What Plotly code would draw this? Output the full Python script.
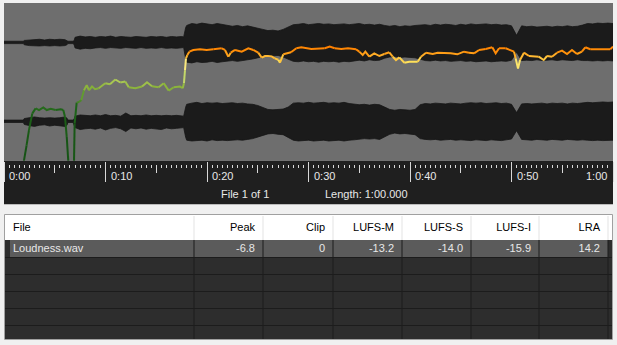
import plotly.graph_objects as go

W, H = 617, 345

# ---------------- data ----------------
duration_s = 60.0
file_index, file_count = 1, 1

# short-term loudness curve (seconds, LUFS); values below -47 are out of view (silence)
loud_t = [1.90, 1.97, 2.22, 2.46, 2.79, 3.12, 3.45, 3.87, 4.21, 4.60, 5.09, 5.59, 5.84, 6.01, 6.18, 6.33, 6.40,
          6.85, 6.90, 6.96, 7.16, 7.39, 7.62, 7.88, 8.15, 8.37, 8.67, 8.97, 9.33, 9.98, 10.44, 10.97, 11.46,
          11.95, 12.29, 12.94, 13.60, 14.09, 14.58, 15.24, 15.73, 16.23, 16.72, 17.34, 17.61, 17.73, 17.83,
          17.93, 18.06, 18.26, 18.65, 19.31, 19.97, 20.62, 21.45, 21.77, 22.10, 22.34, 22.76, 23.42, 24.07,
          24.56, 25.05, 25.39, 25.71, 26.01, 26.37, 26.67, 27.03, 27.19, 27.52, 28.01, 28.28, 28.80, 29.29,
          30.28, 30.94, 31.60, 32.09, 32.58, 33.23, 33.89, 34.68, 35.00, 35.34, 35.60, 35.99, 36.48, 36.98,
          37.47, 37.96, 38.30, 38.62, 38.95, 39.44, 39.93, 40.76, 41.08, 41.58, 42.24, 42.73, 43.35, 44.01,
          44.66, 45.32, 45.81, 46.31, 46.80, 47.46, 48.11, 48.44, 48.77, 49.43, 49.92, 50.25, 50.41, 50.64,
          50.84, 51.23, 51.72, 52.02, 52.68, 53.17, 53.50, 53.99, 54.48, 54.98, 55.47, 55.96, 56.45, 56.94,
          57.27, 57.76, 58.59, 59.73, 60.00]
loud_lufs = [-60, -46.9, -42.5, -37.9, -32.9, -31.4, -31.9, -31.1, -31.9, -31.5, -31.9, -31.7, -31.9, -33.9,
             -39.9, -46.9, -60, -60, -46.9, -35.9, -29.7, -29.5, -28.9, -26.0, -24.5, -26.0, -24.9, -25.7,
             -25.4, -23.9, -24.2, -22.8, -23.7, -23.4, -25.1, -25.4, -24.9, -23.6, -24.8, -25.1, -23.9, -26.1,
             -25.1, -24.9, -25.4, -23.9, -20.1, -16.5, -15.5, -14.5, -14.0, -13.8, -14.0, -13.8, -13.5, -14.0,
             -16.0, -14.8, -14.0, -14.5, -13.5, -14.0, -14.8, -16.3, -15.8, -15.8, -15.9, -16.5, -16.9, -17.8,
             -15.3, -14.9, -14.7, -13.5, -13.2, -13.7, -13.7, -13.5, -13.0, -13.5, -13.7, -13.5, -13.8, -14.5,
             -15.5, -14.5, -16.0, -15.0, -15.8, -15.2, -14.7, -16.0, -17.0, -16.2, -17.8, -17.5, -17.5, -16.0,
             -14.8, -15.2, -14.8, -14.8, -15.0, -15.3, -14.5, -14.8, -15.0, -14.0, -13.7, -13.2, -15.0, -13.5,
             -13.5, -14.0, -14.5, -16.5, -19.5, -17.0, -14.8, -15.8, -15.8, -16.0, -17.0, -15.8, -16.0, -14.8,
             -14.2, -15.2, -14.0, -15.2, -14.5, -13.2, -13.8, -13.8, -13.8, -13.0]

# waveform envelope (linear amplitude, full scale = 1) for both channels
wave_t = [0, 0.5, 1.0, 1.5, 1.9, 2.0, 2.5, 3.0, 3.5, 4.0, 4.5, 5.0, 5.5, 6.0, 6.2, 6.3, 6.8, 6.9,
          7.0, 7.5, 8.0, 8.5, 9.0, 9.5, 10.0, 10.5, 11.0, 11.5, 12.0, 12.5, 13.0, 13.5, 14.0, 14.5, 15.0,
          15.5, 16.0, 16.5, 17.0, 17.5, 17.7, 17.9, 18.0, 18.5, 19.0, 19.5, 20.0, 20.5, 21.0, 21.5, 22.0,
          22.5, 23.0, 23.5, 24.0, 24.5, 25.0, 25.5, 26.0, 26.5, 27.0, 27.5, 28.0, 28.5, 29.0, 29.5, 30.0,
          30.5, 31.0, 31.5, 32.0, 32.5, 33.0, 33.5, 34.0, 34.5, 35.0, 35.5, 36.0, 36.5, 37.0, 37.5, 38.0,
          38.5, 39.0, 39.5, 40.0, 40.5, 41.0, 41.5, 42.0, 42.5, 43.0, 43.5, 44.0, 44.5, 45.0, 45.5, 46.0,
          46.5, 47.0, 47.5, 48.0, 48.5, 49.0, 49.5, 50.0, 50.5, 51.0, 51.5, 52.0, 52.5, 53.0, 53.5, 54.0,
          54.5, 55.0, 55.5, 56.0, 56.5, 57.0, 57.5, 58.0, 58.5, 59.0, 59.5, 60.0]
ch1_pos = [.03, .03, .03, .03, .03, .05, .06, .07, .08, .06, .08, .07, .08, .07, .05, .03, .03, .04,
           .13, .16, .14, .15, .13, .15, .14, .16, .13, .15, .14, .13, .15, .14, .13, .15, .14,
           .15, .13, .15, .14, .15, .14, .38, .43, .48, .46, .49, .47, .45, .48, .46, .43,
           .41, .43, .40, .42, .38, .36, .33, .30, .31, .29, .33, .38, .45, .46, .48, .45,
           .47, .48, .46, .47, .45, .46, .47, .45, .46, .48, .45, .46, .44, .46, .43, .41,
           .43, .40, .42, .41, .43, .44, .45, .43, .46, .44, .46, .45, .43, .46, .44, .47,
           .45, .46, .47, .45, .46, .44, .45, .42, .18, .42, .40, .41, .39, .40, .41, .39,
           .41, .40, .42, .40, .41, .44, .48, .47, .49, .48, .49, .48]
ch1_neg = [.03, .03, .03, .03, .03, .06, .08, .09, .09, .08, .09, .08, .09, .08, .06, .03, .03, .05,
           .14, .17, .15, .16, .14, .13, .15, .13, .14, .15, .13, .14, .15, .13, .15, .14, .15,
           .13, .15, .14, .15, .14, .13, .43, .50, .52, .49, .51, .50, .48, .51, .49, .47,
           .46, .48, .46, .44, .42, .40, .36, .33, .34, .33, .37, .42, .48, .49, .47, .49,
           .48, .50, .48, .49, .48, .50, .48, .49, .47, .45, .47, .44, .46, .45, .40, .37,
           .36, .38, .37, .38, .39, .43, .46, .47, .45, .47, .46, .48, .47, .46, .48, .47,
           .49, .48, .47, .49, .48, .47, .48, .45, .25, .46, .45, .46, .44, .46, .45, .44,
           .46, .44, .45, .46, .44, .46, .46, .47, .46, .47, .46, .47]
ch2_pos = [.03, .03, .03, .03, .03, .07, .09, .11, .09, .08, .09, .08, .09, .11, .08, .03, .03, .05,
           .13, .16, .15, .14, .16, .14, .17, .14, .15, .13, .21, .14, .15, .14, .16, .14, .15,
           .14, .15, .14, .15, .14, .13, .36, .43, .46, .48, .45, .47, .46, .47, .45, .46,
           .47, .45, .46, .44, .43, .40, .34, .30, .29, .30, .31, .36, .46, .47, .46, .48,
           .46, .47, .48, .46, .47, .46, .48, .45, .44, .42, .43, .41, .43, .42, .36, .30,
           .28, .30, .29, .28, .30, .42, .45, .44, .46, .45, .44, .46, .45, .44, .46, .47,
           .46, .47, .45, .46, .47, .45, .46, .43, .22, .44, .45, .44, .45, .46, .44, .46,
           .45, .46, .44, .46, .45, .47, .48, .47, .48, .49, .48, .49]
ch2_neg = [.03, .03, .03, .03, .03, .08, .11, .13, .10, .09, .12, .10, .11, .13, .10, .03, .03, .06,
           .16, .21, .19, .18, .20, .17, .22, .18, .16, .19, .26, .17, .19, .17, .20, .18, .19,
           .21, .17, .19, .18, .17, .16, .41, .48, .50, .49, .48, .50, .47, .49, .48, .49,
           .48, .47, .48, .46, .44, .41, .36, .32, .31, .33, .34, .40, .48, .50, .49, .48,
           .50, .49, .48, .50, .49, .48, .50, .48, .47, .46, .44, .45, .44, .46, .40, .33,
           .30, .32, .31, .33, .34, .44, .46, .47, .46, .48, .47, .46, .48, .47, .48, .49,
           .47, .48, .49, .47, .48, .49, .47, .45, .24, .46, .47, .48, .46, .47, .48, .46,
           .47, .48, .46, .47, .48, .47, .48, .49, .48, .49, .49, .48]

time_ticks = [0, 10, 20, 30, 40, 50, 60]
time_labels = ["0:00", "0:10", "0:20", "0:30", "0:40", "0:50", "1:00"]

table_headers = ["File", "Peak", "Clip", "LUFS-M", "LUFS-S", "LUFS-I", "LRA"]
file_names = ["Loudness.wav"]
peak_db = [-6.8]
clip_count = [0]
lufs_m = [-13.2]
lufs_s = [-14.0]
lufs_i = [-15.9]
lra = [14.2]

# ---------------- styling helpers ----------------
FONT = "Liberation Sans, Arial, sans-serif"


def px(x):
    return x / W


def py(y):
    return 1 - y / H


color_stops = [(-60, (15, 70, 15)), (-47, (20, 80, 20)), (-32, (30, 100, 25)), (-28, (90, 150, 45)),
               (-25, (140, 180, 60)), (-22.5, (185, 210, 95)), (-19.5, (245, 240, 160)),
               (-17.5, (255, 225, 90)), (-16, (255, 185, 50)), (-14.5, (255, 145, 10)), (-13, (255, 128, 0))]


def loud_color(v):
    if v <= color_stops[0][0]:
        c = color_stops[0][1]
    elif v >= color_stops[-1][0]:
        c = color_stops[-1][1]
    else:
        for (a, ca), (b, cb) in zip(color_stops[:-1], color_stops[1:]):
            if a <= v <= b:
                f = (v - a) / (b - a)
                c = tuple(ca[k] + (cb[k] - ca[k]) * f for k in range(3))
                break
    return "rgb(%d,%d,%d)" % tuple(round(x) for x in c)


fig = go.Figure()

# waveform channels
for ch_pos, ch_neg, yax in [(ch1_pos, ch1_neg, "y"), (ch2_pos, ch2_neg, "y2")]:
    fig.add_trace(go.Scatter(
        x=wave_t + wave_t[::-1],
        y=ch_pos + [-v for v in ch_neg[::-1]],
        fill="toself", fillcolor="#1b1b1b", mode="lines",
        line=dict(color="#161616", width=0.8),
        xaxis="x", yaxis=yax, hoverinfo="skip", showlegend=False))

# loudness curve, coloured by level (consecutive segments of same colour grouped)
seg_cols = [loud_color(round((loud_lufs[i] + loud_lufs[i + 1]) / 2 * 2) / 2) for i in range(len(loud_t) - 1)]
i0 = 0
while i0 < len(seg_cols):
    i1 = i0
    while i1 + 1 < len(seg_cols) and seg_cols[i1 + 1] == seg_cols[i0]:
        i1 += 1
    fig.add_trace(go.Scatter(
        x=loud_t[i0:i1 + 2], y=loud_lufs[i0:i1 + 2], mode="lines",
        line=dict(color=seg_cols[i0], width=2),
        xaxis="x", yaxis="y3", hoverinfo="skip", showlegend=False))
    i0 = i1 + 1

# empty carriers for extra tick axes
for xa in ["x2", "x3"]:
    fig.add_trace(go.Scatter(x=[], y=[], xaxis=xa, yaxis="y3", showlegend=False, hoverinfo="skip"))

# ---------------- table ----------------
nrows = 6
col_w = [189, 69, 70, 69, 69, 68, 69, 4]
tbl_x0, tbl_top, head_h, row_h = 5, 215, 25, 17
text_pad_shift = 4   # plotly places cell text low; header drawn 4px shorter, grid drawn separately


def col(vals, fmt):
    return [fmt(v) for v in vals] + [""] * (nrows - len(vals))


cell_vals = [col(file_names, str), col(peak_db, lambda v: f"{v:.1f}"), col(clip_count, lambda v: f"{v:d}"),
             col(lufs_m, lambda v: f"{v:.1f}"), col(lufs_s, lambda v: f"{v:.1f}"),
             col(lufs_i, lambda v: f"{v:.1f}"), col(lra, lambda v: f"{v:.1f}"), [""] * nrows]
clear = "rgba(0,0,0,0)"
tbl_h = head_h - text_pad_shift + nrows * row_h
fig.add_trace(go.Table(
    domain=dict(x=[px(tbl_x0), px(tbl_x0 + sum(col_w))], y=[py(tbl_top + tbl_h), py(tbl_top)]),
    columnwidth=col_w,
    header=dict(values=table_headers + [""], fill_color=clear, line=dict(color=clear, width=0),
                align=["left"] + ["right"] * 7, font=dict(family=FONT, size=11, color="black"),
                height=head_h - text_pad_shift),
    cells=dict(values=cell_vals, fill_color=clear, line=dict(color=clear, width=0),
               align=["left"] + ["right"] * 7, font=dict(family=FONT, size=11, color="#e8e8e8"), height=row_h),
))

# table grid / fills (drawn beneath the table text)
bounds = [tbl_x0]
for w in col_w:
    bounds.append(bounds[-1] + w)
body_top = tbl_top + head_h
body_bot = 339
tshapes = [
    dict(type="rect", x0=px(bounds[0]), x1=px(bounds[-1]), y0=py(body_top), y1=py(tbl_top),
         fillcolor="white", line=dict(width=0)),
    dict(type="rect", x0=px(bounds[0]), x1=px(bounds[-1]), y0=py(body_bot), y1=py(body_top),
         fillcolor="#2d2d2d", line=dict(width=0)),
]
for r in range(len(file_names)):
    tshapes.append(dict(type="rect", x0=px(bounds[0] + 5), x1=px(bounds[-2]),
                        y0=py(body_top + (r + 1) * row_h), y1=py(body_top + r * row_h),
                        fillcolor="#5b5b5b", line=dict(width=0)))
for b in bounds[1:-1]:
    tshapes.append(dict(type="line", x0=px(b), x1=px(b), y0=py(body_top), y1=py(tbl_top + 1),
                        line=dict(color="#e3e3e3", width=1)))
    tshapes.append(dict(type="line", x0=px(b), x1=px(b), y0=py(body_bot), y1=py(body_top),
                        line=dict(color="#1c1c1c", width=1)))
for r in range(1, nrows):
    yy = body_top + r * row_h + 0.5
    tshapes.append(dict(type="line", x0=px(bounds[0]), x1=px(bounds[-1]), y0=py(yy), y1=py(yy),
                        line=dict(color="#1c1c1c", width=1)))
for s in tshapes:
    s.update(xref="paper", yref="paper", layer="below")

xdom = [px(4), px(613)]
tick_common = dict(domain=xdom, range=[0, duration_s], anchor="free", showgrid=False, zeroline=False,
                   showline=False, ticks="outside", tickwidth=1, tickcolor="#d8d8d8", tick0=0,
                   showticklabels=False, fixedrange=True)

shapes = [
    dict(type="rect", xref="paper", yref="paper", x0=px(4), x1=px(613), y0=py(160.7), y1=py(3),
         fillcolor="#6e6e6e", line=dict(width=0), layer="below"),
    dict(type="rect", xref="paper", yref="paper", x0=px(4), x1=px(613), y0=py(204.3), y1=py(160.7),
         fillcolor="#1f1f1f", line=dict(width=0), layer="below"),
] + tshapes + [
    dict(type="rect", xref="paper", yref="paper", x0=px(4.5), x1=px(612.5), y0=py(339.5), y1=py(214.5),
         line=dict(color="#a0a0a0", width=1), layer="above"),
]

annotations = []
for t, lab in zip(time_ticks, time_labels):
    last = t == time_ticks[-1]
    annotations.append(dict(x=t, xref="x", y=py(176), yref="paper", text=lab, showarrow=False,
                            xanchor="right" if last else "left", yanchor="middle",
                            xshift=-4 if last else 3, font=dict(family=FONT, size=11, color="#e8e8e8")))
mins, secs = divmod(duration_s, 60)
annotations.append(dict(x=px(244.5), y=py(194), xref="paper", yref="paper", text=f"File {file_index} of {file_count}",
                        showarrow=False, xanchor="center", yanchor="middle",
                        font=dict(family=FONT, size=11, color="#e8e8e8")))
annotations.append(dict(x=px(322.5), y=py(194), xref="paper", yref="paper",
                        text=f"Length: {int(mins)}:{secs:06.3f}", showarrow=False, xanchor="left",
                        yanchor="middle", font=dict(family=FONT, size=11, color="#e8e8e8")))

fig.update_layout(
    width=W, height=H, margin=dict(l=0, r=0, t=0, b=0),
    paper_bgcolor="#f0f0f0", plot_bgcolor="rgba(0,0,0,0)", showlegend=False,
    xaxis=dict(position=py(161), ticklen=20, dtick=10, **tick_common),
    xaxis2=dict(overlaying="x", position=py(163.5), ticklen=3, dtick=0.5, **tick_common),
    xaxis3=dict(overlaying="x", position=py(163.5), ticklen=8.5, dtick=5, **tick_common),
    yaxis=dict(domain=[py(81.85), py(3)], range=[-1, 1], anchor="x", visible=False, fixedrange=True),
    yaxis2=dict(domain=[py(160.7), py(81.85)], range=[-1, 1], anchor="x", visible=False, fixedrange=True),
    yaxis3=dict(domain=[py(160.7), py(3)], range=[-47, 0], anchor="x", visible=False, fixedrange=True),
    shapes=shapes, annotations=annotations,
)

fig.write_html("out.html")
